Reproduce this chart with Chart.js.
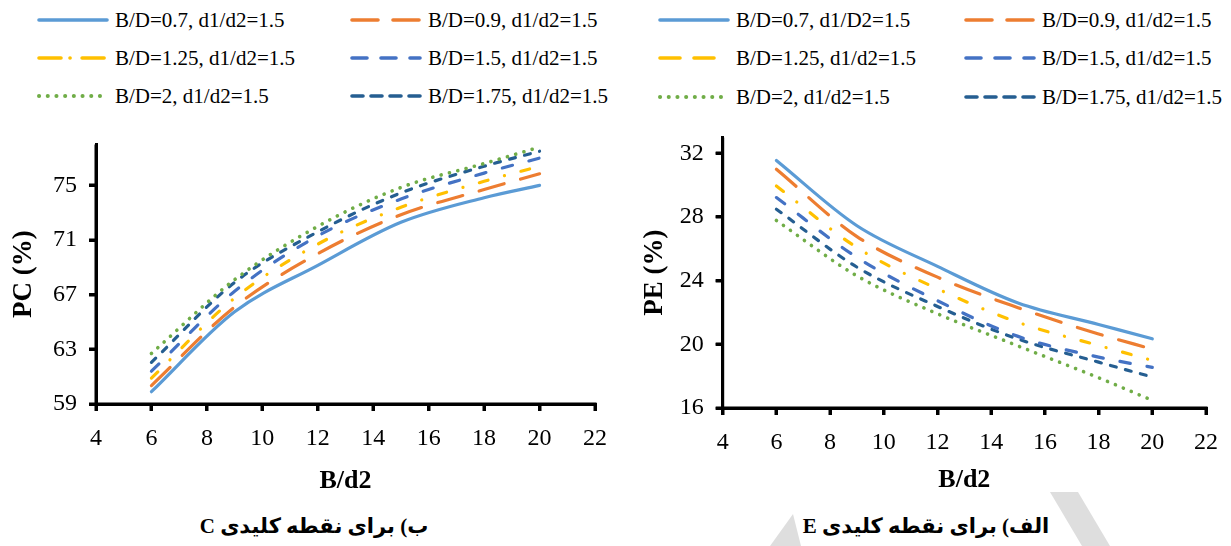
<!DOCTYPE html>
<html>
<head>
<meta charset="utf-8">
<script src="https://cdn.jsdelivr.net/npm/chart.js@4.4.1/dist/chart.umd.min.js"></script>
<style>
  html, body { margin:0; padding:0; background:#fff; }
  body { width:1231px; height:546px; position:relative; overflow:hidden; font-family:"Liberation Serif","Times New Roman",serif; }
  .cv { position:absolute; }
  .leg { position:absolute; display:flex; align-items:center; font-size:21px; color:#000; white-space:nowrap; }
  .leg svg { display:block; margin-right:6px; }
  .cap { position:absolute; top:514px; font-weight:bold; font-size:21px; direction:rtl; white-space:nowrap;
         font-family:"Liberation Serif","DejaVu Sans",serif; transform:translateX(-50%); }
  .wm { position:absolute; left:0; top:0; width:1231px; height:546px; background:#dedede; }
</style>
</head>
<body>
<div class="wm" style="clip-path:polygon(1050px 492px,1078px 492px,1110px 546px,1082px 546px);"></div>
<div class="wm" style="clip-path:polygon(770px 546px,793px 514px,801px 546px);"></div>

<div id="legendL"></div>
<div id="legendR"></div>

<canvas id="cL" class="cv"></canvas>
<canvas id="cR" class="cv"></canvas>

<div class="cap" style="left:314px;">ب) برای نقطه کلیدی C</div>
<div class="cap" style="left:926px;">الف) برای نقطه کلیدی E</div>

<script>
// ---------- data ----------
const xValues = [6, 9, 12, 15, 18, 20];
const xTicks = [4, 6, 8, 10, 12, 14, 16, 18, 20, 22];

// PC (%) - key point C (left chart)
const pc_07  = [59.9, 65.75, 69.15, 72.3, 74.1, 75.0];
const pc_09  = [60.35, 66.1, 70.0, 72.85, 74.7, 75.85];
const pc_125 = [60.9, 66.75, 70.7, 73.4, 75.3, 76.4];
const pc_15  = [61.4, 67.25, 71.3, 74.0, 75.9, 77.0];
const pc_175 = [62.05, 67.9, 71.6, 74.45, 76.4, 77.5];
const pc_2   = [62.7, 68.1, 72.0, 74.85, 76.6, 77.8];
const pcTicks = [59, 63, 67, 71, 75];

// PE (%) - key point E (right chart)
const pe_07  = [31.55, 27.45, 24.9, 22.6, 21.25, 20.35];
const pe_09  = [31.0, 26.77, 24.22, 22.3, 20.65, 19.7];
const pe_125 = [29.95, 26.08, 23.49, 21.38, 19.93, 18.99];
const pe_15  = [29.22, 25.46, 22.74, 20.5, 19.2, 18.55];
const pe_175 = [28.49, 24.85, 22.38, 20.33, 18.88, 17.95];
const pe_2   = [27.78, 24.3, 21.92, 19.9, 17.9, 16.48];
const peTicks = [16, 20, 24, 28, 32];

const labelsL = ["B/D=0.7, d1/d2=1.5","B/D=0.9, d1/d2=1.5","B/D=1.25, d1/d2=1.5","B/D=1.5, d1/d2=1.5","B/D=2, d1/d2=1.5","B/D=1.75, d1/d2=1.5"];
const labelsR = ["B/D=0.7, d1/D2=1.5","B/D=0.9, d1/d2=1.5","B/D=1.25, d1/d2=1.5","B/D=1.5, d1/d2=1.5","B/D=2, d1/d2=1.5","B/D=1.75, d1/d2=1.5"];

// ---------- styles ----------
const styles = [
  {color:'#5B9BD5', dash:[],              width:3.2},
  {color:'#ED7D31', dash:[26,17],         width:3.2},
  {color:'#FFC000', dash:[9,17,0.1,17],   width:3.2},
  {color:'#4472C4', dash:[10.5,17],       width:3.2},
  {color:'#70AD47', dash:[0.1,8.5],       width:3.6},
  {color:'#255E91', dash:[6,9.5],         width:3.2}
];
const legDashL = ['', '26 15', '22 9 0.1 12', '15 14', '0.1 8.6', '11 8'];
const legDashR = ['', '26 15', '20 14', '15 14', '0.1 8.6', '11 8'];

function buildLegend(id, labels, dashes, cols, rows) {
  const host = document.getElementById(id);
  labels.forEach((lab, i) => {
    const r = Math.floor(i / 2), c = i % 2;
    const st = styles[i];
    const d = document.createElement('div');
    d.className = 'leg';
    d.style.left = cols[c] + 'px';
    d.style.top = (rows[r] - 13) + 'px';
    d.style.height = '26px';
    const dash = dashes[i] ? `stroke-dasharray="${dashes[i]}"` : '';
    d.innerHTML = `<svg width="72" height="8"><line x1="2" y1="4" x2="70" y2="4" stroke="${st.color}" stroke-width="${st.width+0.4}" stroke-linecap="round" ${dash}/></svg><span>${lab}</span>`;
    host.appendChild(d);
  });
}
buildLegend('legendL', labelsL, legDashL, [37, 350], [20, 58, 96]);
buildLegend('legendR', labelsR, legDashR, [658, 964], [20, 58, 97]);

function makeDatasets(series) {
  return series.map((vals, i) => ({
    data: xValues.map((x, k) => ({x: x, y: vals[k]})),
    borderColor: styles[i].color,
    borderWidth: styles[i].width,
    borderDash: styles[i].dash,
    borderCapStyle: 'round',
    borderJoinStyle: 'round',
    pointRadius: 0,
    fill: false,
    cubicInterpolationMode: 'monotone'
  }));
}

// draws heavy black axis lines and tick marks
const axisPlugin = {
  id: 'heavyAxes',
  afterDraw(chart) {
    const {ctx, chartArea: a, scales} = chart;
    ctx.save();
    ctx.strokeStyle = '#000';
    ctx.lineWidth = 3;
    ctx.lineCap = 'butt';
    ctx.beginPath();
    ctx.moveTo(a.left, a.top);
    ctx.lineTo(a.left, a.bottom + 1.5);
    ctx.moveTo(a.left - 7, a.bottom);
    ctx.lineTo(a.right + 1.5, a.bottom);
    scales.x.ticks.forEach(t => {
      const px = Math.round(scales.x.getPixelForValue(t.value));
      ctx.moveTo(px, a.bottom);
      ctx.lineTo(px, a.bottom + 7);
    });
    scales.y.ticks.forEach(t => {
      const py = Math.round(scales.y.getPixelForValue(t.value));
      ctx.moveTo(a.left, py);
      ctx.lineTo(a.left - 7, py);
    });
    ctx.stroke();
    ctx.restore();
  }
};

function config(series, yMin, yMax, yTicks, yTitle, yWidth, xHeight, padRight, yTitlePad) {
  return {
    type: 'line',
    data: { datasets: makeDatasets(series) },
    plugins: [axisPlugin],
    options: {
      responsive: false,
      animation: false,
      layout: { padding: {top:0, right:padRight, left:0, bottom:0} },
      plugins: { legend: {display:false}, tooltip: {enabled:false} },
      scales: {
        x: {
          type: 'linear', min: 4, max: 22,
          afterBuildTicks: s => { s.ticks = xTicks.map(v => ({value:v})); },
          afterFit: s => { s.height = xHeight; },
          border: { display:true, color:'#000', width:3 },
          grid: { drawOnChartArea:false, drawTicks:true, tickLength:7, tickWidth:3, tickColor:'#000', color:'#000', lineWidth:3 },
          ticks: { color:'#000', padding:13, maxRotation:0, font:{family:'Liberation Serif', size:24} },
          title: { display:true, text:'B/d2', color:'#000', padding:{top:0,bottom:8},
                   font:{family:'Liberation Serif', size:26, weight:'bold'} }
        },
        y: {
          min: yMin, max: yMax,
          afterBuildTicks: s => { s.ticks = yTicks.map(v => ({value:v})); },
          afterFit: s => { s.width = yWidth; },
          border: { display:true, color:'#000', width:3 },
          grid: { drawOnChartArea:false, drawTicks:true, tickLength:7, tickWidth:3, tickColor:'#000', color:'#000', lineWidth:3 },
          ticks: { color:'#000', padding:12, font:{family:'Liberation Serif', size:24} },
          title: { display:true, text:yTitle, color:'#000', padding:{top:yTitlePad,bottom:0},
                   font:{family:'Liberation Serif', size:27, weight:'bold'} }
        }
      }
    }
  };
}

// Place a chart so that its plot area lands on the wanted page box.
function placeChart(id, cfgArgs, pageLeft, width, plotTop, plotBottom, xHeight) {
  const cv = document.getElementById(id);
  cv.style.left = pageLeft + 'px';
  cv.width = width; cv.height = 400;
  cv.style.top = '0px';
  let ch = new Chart(cv, config(...cfgArgs));
  const offTop = ch.chartArea.top;
  ch.destroy();
  const canvasTop = plotTop - offTop;
  const canvasH = Math.round((plotBottom - canvasTop) + xHeight);
  cv.width = width; cv.height = canvasH;
  cv.style.width = width + 'px'; cv.style.height = canvasH + 'px';
  cv.style.top = canvasTop + 'px';
  return new Chart(cv, config(...cfgArgs));
}

placeChart('cL', [[pc_07, pc_09, pc_125, pc_15, pc_2, pc_175], 59, 78, pcTicks, 'PC (%)', 96, 101, 24, 8],
           0, 620, 144, 403.3, 101);
placeChart('cR', [[pe_07, pe_09, pe_125, pe_15, pe_2, pe_175], 16, 33, peTicks, 'PE (%)', 102.7, 96, 19.3, 19],
           620, 611, 137.4, 408.3, 96);
</script>
</body>
</html>
